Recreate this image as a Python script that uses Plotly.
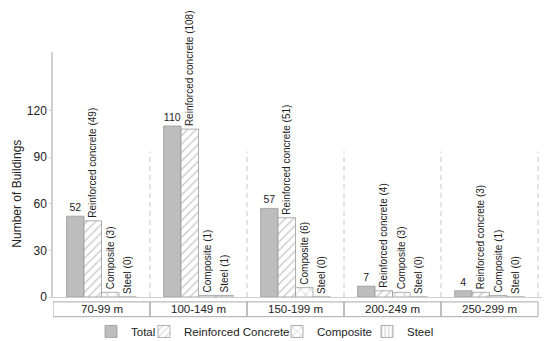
import plotly.graph_objects as go

categories = ["70-99 m", "100-149 m", "150-199 m", "200-249 m", "250-299 m"]
total = [52, 110, 57, 7, 4]
reinforced = [49, 108, 51, 4, 3]
composite = [3, 1, 6, 3, 1]
steel = [0, 1, 0, 0, 0]
y_ticks = [0, 30, 60, 90, 120]

FONT = "Liberation Sans, Arial, sans-serif"
TXT = "#222222"
HATCH = "#8c8c8c"
EDGE = "#9a9a9a"

x_idx = list(range(len(categories)))

fig = go.Figure()

fig.add_trace(go.Bar(
    x=x_idx, y=total, name="Total",
    marker=dict(color="#bdbdbd", line=dict(color=EDGE, width=0.8)),
    text=[str(v) for v in total], textposition="outside", textangle=0,
    textfont=dict(size=10.5, color=TXT, family=FONT),
    cliponaxis=False, constraintext="none", legend="legend",
))
fig.add_trace(go.Bar(
    x=x_idx, y=reinforced, name="Reinforced Concrete",
    marker=dict(color="white", line=dict(color=EDGE, width=0.8),
                pattern=dict(shape="/", fgcolor=HATCH, bgcolor="white", size=6, solidity=0.2)),
    text=[f"Reinforced concrete ({v})" for v in reinforced], textposition="outside", textangle=-90,
    textfont=dict(size=10, color=TXT, family=FONT),
    cliponaxis=False, constraintext="none", legend="legend2",
))
fig.add_trace(go.Bar(
    x=x_idx, y=composite, name="Composite",
    marker=dict(color="white", line=dict(color=EDGE, width=0.8),
                pattern=dict(shape="x", fgcolor=HATCH, bgcolor="white", size=7, solidity=0.2)),
    text=[f"Composite ({v})" for v in composite], textposition="outside", textangle=-90,
    textfont=dict(size=10, color=TXT, family=FONT),
    cliponaxis=False, constraintext="none", legend="legend3",
))
fig.add_trace(go.Bar(
    x=x_idx, y=steel, name="Steel",
    marker=dict(color="white", line=dict(color=EDGE, width=0.8),
                pattern=dict(shape="|", fgcolor=HATCH, bgcolor="white", size=4.5, solidity=0.25)),
    text=[f"Steel ({v})" for v in steel], textposition="outside", textangle=-90,
    textfont=dict(size=10, color=TXT, family=FONT),
    cliponaxis=False, constraintext="none", legend="legend4",
))

# plot area in pixels: x 45..547, y 44..293
L, R, T, B = 45, 547, 44, 293
W, H = 550, 341
PW, PH = R - L, B - T

def px_x(p):
    return (p - L) / PW

def px_y(p):
    return (B - p) / PH

shapes = []
for i in range(len(categories)):
    shapes.append(dict(type="line", xref="x", yref="paper", x0=i + 0.5, x1=i + 0.5,
                       y0=0, y1=px_y(145), line=dict(color="#c8c8c8", width=1, dash="5px,4px")))
for i in range(len(categories)):
    shapes.append(dict(type="rect", xref="x", yref="paper", x0=i - 0.5, x1=i + 0.5,
                       y0=px_y(313), y1=px_y(298), line=dict(color="#aaaaaa", width=1),
                       fillcolor="rgba(0,0,0,0)"))

annotations = []
for i, c in enumerate(categories):
    annotations.append(dict(x=i, y=px_y(305.5), xref="x", yref="paper", text=c, showarrow=False,
                            font=dict(size=11.5, color=TXT, family=FONT), xanchor="center", yanchor="middle"))
annotations.append(dict(x=px_x(9), y=px_y(188), xref="paper", yref="paper", text="Number of Buildings",
                        showarrow=False, textangle=-90, font=dict(size=12, color=TXT, family=FONT),
                        xanchor="center", yanchor="middle"))

leg_common = dict(orientation="h", yanchor="middle", xanchor="left", y=px_y(328),
                  bgcolor="rgba(0,0,0,0)", font=dict(size=11.5, color=TXT, family=FONT),
                  borderwidth=0)

fig.update_layout(
    width=W, height=H,
    margin=dict(l=L, r=W - R, t=T, b=H - B, pad=0),
    paper_bgcolor="white", plot_bgcolor="white",
    barmode="group", bargap=0.28, bargroupgap=0,
    font=dict(family=FONT, size=12, color=TXT),
    xaxis=dict(range=[-0.5, 4.675], showticklabels=False, showgrid=False, zeroline=False,
               showline=True, linecolor="#cfcfcf", linewidth=1, ticks=""),
    yaxis=dict(range=[0, 157.6], tickvals=y_ticks, showgrid=False, zeroline=False,
               showline=True, linecolor="#cfcfcf", linewidth=1.5, ticks="outside", ticklen=2,
               tickcolor="#cfcfcf", tickfont=dict(size=12, color=TXT, family=FONT)),
    shapes=shapes, annotations=annotations,
    legend=dict(x=px_x(83), **leg_common),
    legend2=dict(x=px_x(136), **leg_common),
    legend3=dict(x=px_x(269), **leg_common),
    legend4=dict(x=px_x(359), **leg_common),
    showlegend=True,
)

fig.write_html("out.html")
